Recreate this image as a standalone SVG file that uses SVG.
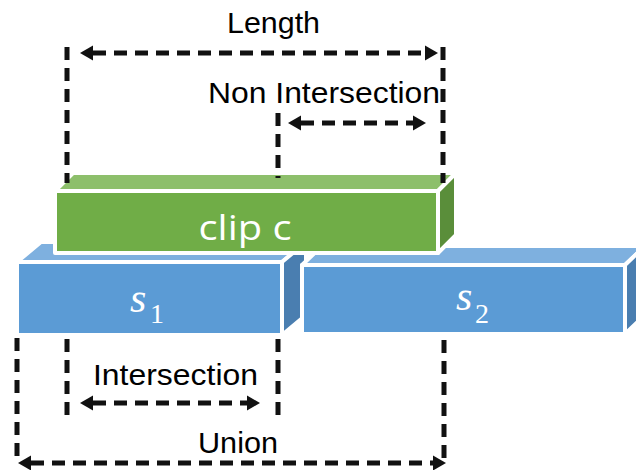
<svg xmlns="http://www.w3.org/2000/svg" width="636" height="470" viewBox="0 0 636 470">
<style>
.face{stroke:#fff;stroke-width:4;stroke-linejoin:round}
.gf{fill:#70AD47}.gt{fill:#8DBF6B}.gs{fill:#5A8E3A}
.bf{fill:#5B9BD5}.bt{fill:#7EB0DF}.bs{fill:#4A7EB0}
.dash{stroke:#111;stroke-width:5;stroke-dasharray:13 8;fill:none}
.lbl{font-family:"Liberation Sans",Arial,sans-serif;font-size:30px;fill:#000}
.clab{font-family:"Open Sans","Noto Sans",sans-serif;font-size:34px;fill:#fff}
.math{font-family:"Liberation Serif","DejaVu Serif",serif;fill:#fff}
</style>
<defs>
<marker id="ah" markerUnits="userSpaceOnUse" markerWidth="14" markerHeight="16" refX="0" refY="0" orient="auto-start-reverse" overflow="visible">
<path d="M0,-7.5 L13,0 L0,7.5 Z" fill="#111"/>
</marker>
</defs>
<rect width="636" height="470" fill="#fff"/>
<g id="s1">
<polygon class="face bt" points="17,262 41,242 306,242 282,262"/>
<polygon class="face bs" points="282,262 306,242 306,315 282,335"/>
<rect class="face bf" x="17" y="262" width="265" height="73"/>
<text class="math" x="130" y="312" font-size="42" font-style="italic">s<tspan x="150" y="323" font-size="28" font-style="normal">1</tspan></text>
</g>
<g id="s2">
<polygon class="face bt" points="302,265 322,246 645,246 625,265"/>
<polygon class="face bs" points="625,265 645,246 645,315 625,334"/>
<rect class="face bf" x="302" y="265" width="323" height="69"/>
<text class="math" x="456" y="310" font-size="42" font-style="italic">s<tspan x="475" y="323" font-size="28" font-style="normal">2</tspan></text>
</g>
<g id="clip">
<polygon class="face gt" points="55,191 73,173 456,173 438,191"/>
<polygon class="face gs" points="438,191 456,173 456,235 438,253"/>
<rect class="face gf" x="55" y="191" width="383" height="62"/>
<text class="clab" x="245" y="240" text-anchor="middle" textLength="93" lengthAdjust="spacingAndGlyphs">clip c</text>
</g>
<g id="connectors">
<line class="dash" x1="67" y1="47" x2="67" y2="183"/>
<line class="dash" x1="443" y1="47" x2="443" y2="183"/>
<line class="dash" x1="278" y1="113" x2="278" y2="178"/>
<line class="dash" x1="93" y1="53" x2="425" y2="53" marker-start="url(#ah)" marker-end="url(#ah)"/>
<line class="dash" x1="301" y1="123" x2="413" y2="123" marker-start="url(#ah)" marker-end="url(#ah)"/>
<line class="dash" x1="67" y1="339" x2="67" y2="423"/>
<line class="dash" x1="278" y1="339" x2="278" y2="423"/>
<line class="dash" x1="93" y1="403" x2="247" y2="403" marker-start="url(#ah)" marker-end="url(#ah)"/>
<line class="dash" x1="17" y1="338" x2="17" y2="463"/>
<line class="dash" x1="444" y1="340" x2="444" y2="463"/>
<line class="dash" x1="31" y1="463" x2="433" y2="463" marker-start="url(#ah)" marker-end="url(#ah)"/>
</g>
<g id="labels">
<text class="lbl" x="227" y="33" textLength="93" lengthAdjust="spacingAndGlyphs">Length</text>
<text class="lbl" x="208" y="103" textLength="232" lengthAdjust="spacingAndGlyphs">Non Intersection</text>
<text class="lbl" x="93" y="385" textLength="165" lengthAdjust="spacingAndGlyphs">Intersection</text>
<text class="lbl" x="198" y="453" textLength="80" lengthAdjust="spacingAndGlyphs">Union</text>
</g>
</svg>
